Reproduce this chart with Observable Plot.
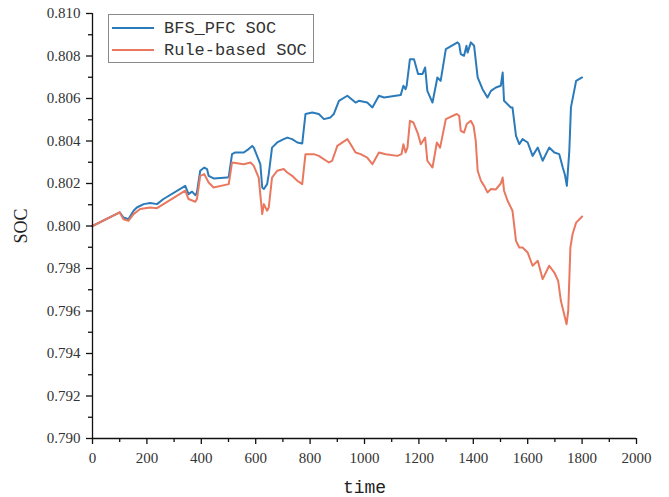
<!DOCTYPE html>
<html>
<head>
<meta charset="utf-8">
<script src="https://cdn.jsdelivr.net/npm/d3@7"></script>
<script src="https://cdn.jsdelivr.net/npm/@observablehq/plot@0.6"></script>
<style>
  html, body { margin: 0; padding: 0; background: #fff; }
  #wrap { position: relative; width: 669px; height: 497px; }
  #legend { position: absolute; left: 108px; top: 14px; width: 206px; height: 49px;
            border: 1px solid #8a8a8a; background: #fff; box-sizing: border-box;
            font-family: "Liberation Mono", "DejaVu Sans Mono", monospace; font-size: 17px; color: #333;
            white-space: nowrap; }
  .row { position: absolute; left: 0; height: 20px; display: flex; align-items: center; white-space: nowrap; }
  .sw { width: 42px; height: 2px; margin-left: 3px; margin-right: 10px; flex: none; }
</style>
</head>
<body>
<div id="wrap"></div>
<script>
// ---- data ----
const seriesNames = ["BFS_PFC SOC", "Rule-based SOC"];
const seriesColors = ["#2b7bba", "#e9785f"];

const bfsTime = [0,100,114,132,151,163,188,212,237,261,341,353,366,378,384,396,411,421,427,445,495,501,513,525,556,574,587,593,605,617,624,630,642,648,660,679,703,716,734,753,771,783,808,832,851,875,887,906,937,967,979,1010,1029,1053,1072,1133,1143,1151,1155,1167,1182,1197,1213,1223,1231,1250,1268,1280,1299,1342,1348,1354,1366,1375,1379,1391,1403,1416,1434,1452,1465,1483,1501,1508,1513,1538,1544,1557,1569,1581,1600,1618,1637,1655,1679,1698,1716,1729,1737,1744,1753,1759,1778,1800];
const bfsSOC = [0.8000,0.80064,0.8004,0.80032,0.80072,0.80087,0.80103,0.80108,0.80103,0.80127,0.80189,0.8015,0.80162,0.80145,0.80158,0.8026,0.80275,0.80268,0.80236,0.80224,0.80228,0.80232,0.80338,0.80346,0.80346,0.80362,0.80377,0.80369,0.8033,0.80291,0.80181,0.80174,0.80197,0.80244,0.80369,0.80393,0.80409,0.80416,0.80409,0.80393,0.80388,0.80527,0.80534,0.80527,0.80503,0.80511,0.80527,0.80589,0.80613,0.80581,0.80589,0.80581,0.80558,0.80613,0.80605,0.80616,0.8066,0.80644,0.8066,0.80785,0.80785,0.80715,0.80715,0.80746,0.80636,0.80581,0.80699,0.80683,0.80832,0.80864,0.80856,0.80809,0.80801,0.80848,0.80816,0.80864,0.80848,0.80699,0.80644,0.80605,0.80636,0.80652,0.8066,0.80722,0.80589,0.80558,0.80558,0.80424,0.80385,0.80409,0.80393,0.8033,0.80369,0.80307,0.80369,0.80346,0.80338,0.80275,0.8024,0.80189,0.80354,0.80558,0.80683,0.80699];

const ruleTime = [0,100,114,132,151,175,212,237,261,341,353,378,384,396,411,427,445,501,513,556,581,593,611,624,630,642,648,660,679,703,716,734,753,771,783,814,832,869,881,894,900,937,949,967,986,1010,1029,1053,1078,1121,1136,1143,1151,1158,1167,1180,1197,1207,1223,1231,1250,1266,1278,1299,1339,1348,1354,1366,1376,1391,1401,1409,1416,1428,1440,1452,1465,1483,1501,1508,1513,1526,1544,1557,1569,1581,1600,1618,1637,1655,1679,1698,1712,1722,1734,1743,1749,1757,1765,1778,1800];
const ruleSOC = [0.8000,0.80064,0.80032,0.80024,0.80056,0.8008,0.80087,0.80084,0.80103,0.80166,0.80127,0.80114,0.80127,0.80236,0.80244,0.80205,0.80181,0.80197,0.80299,0.80291,0.80299,0.80283,0.80228,0.80056,0.80103,0.80072,0.80087,0.80228,0.8026,0.80268,0.80252,0.80236,0.80213,0.80197,0.80338,0.80338,0.8033,0.80299,0.80307,0.80354,0.80377,0.80409,0.80385,0.80346,0.80338,0.80322,0.80291,0.80346,0.80338,0.8033,0.80338,0.80385,0.80346,0.80369,0.80495,0.80487,0.80432,0.80385,0.80416,0.80307,0.80275,0.80393,0.80369,0.80503,0.80527,0.80519,0.80448,0.8044,0.8048,0.80495,0.80471,0.80401,0.8026,0.80213,0.80189,0.80158,0.80174,0.80172,0.802,0.80228,0.80166,0.80119,0.80072,0.7993,0.79899,0.79899,0.79875,0.79813,0.79836,0.7975,0.79813,0.79781,0.79742,0.79648,0.79585,0.79538,0.79601,0.79899,0.79962,0.80016,0.80045];

const xMajorTicks = [0,200,400,600,800,1000,1200,1400,1600,1800,2000];
const xMinorTicks = [100,300,500,700,900,1100,1300,1500,1700,1900];
const yMajorTicks = [0.790,0.792,0.794,0.796,0.798,0.800,0.802,0.804,0.806,0.808,0.810];
const yMinorTicks = [0.791,0.793,0.795,0.797,0.799,0.801,0.803,0.805,0.807,0.809];
const xTitle = "time";
const yTitle = "SOC";

// ---- build table ----
const rows = [
  ...bfsTime.map((t, i) => ({t, soc: bfsSOC[i], s: seriesNames[0]})),
  ...ruleTime.map((t, i) => ({t, soc: ruleSOC[i], s: seriesNames[1]}))
];

const serif = "'Liberation Serif', 'DejaVu Serif', serif";
const mono = "'Liberation Mono', 'DejaVu Sans Mono', monospace";

const chart = Plot.plot({
  width: 669,
  height: 497,
  marginLeft: 92,
  marginRight: 33,
  marginTop: 13,
  marginBottom: 59,
  style: {fontFamily: serif, fontSize: "15px", color: "#222", background: "#fff"},
  x: {domain: [0, 2000], label: null},
  y: {domain: [0.790, 0.810], label: null},
  color: {domain: seriesNames, range: seriesColors},
  marks: [
    Plot.line(rows, {x: "t", y: "soc", z: "s", stroke: "s", strokeWidth: 2, curve: "linear"}),
    Plot.ruleX([0], {stroke: "#111", strokeWidth: 1.3}),
    Plot.ruleY([0.790], {stroke: "#111", strokeWidth: 1.3}),
    Plot.axisX({ticks: xMajorTicks, tickSize: 6, tickPadding: 8, tickFormat: d3.format("d"), label: null, stroke: "#111", strokeWidth: 1.3, fill: "#333", fontSize: 15}),
    Plot.axisX({ticks: xMinorTicks, tickSize: 4, label: null, stroke: "#111", strokeWidth: 1.3, fill: "none"}),
    Plot.axisY({ticks: yMajorTicks, tickSize: 6, tickPadding: 6, tickFormat: d3.format(".3f"), label: null, stroke: "#111", strokeWidth: 1.3, fill: "#333", fontSize: 15}),
    Plot.axisY({ticks: yMinorTicks, tickSize: 4, label: null, stroke: "#111", strokeWidth: 1.3, fill: "none"}),
    Plot.text([yTitle], {frameAnchor: "left", dx: -71, rotate: -90, text: d => d, fontFamily: serif, fontSize: 18, fill: "#222", textAnchor: "middle", lineAnchor: "middle"}),
    Plot.text([xTitle], {frameAnchor: "bottom", dy: 49, text: d => d, fontFamily: mono, fontSize: 18, fill: "#222", textAnchor: "middle", lineAnchor: "middle"})
  ]
});

const wrap = document.getElementById("wrap");
wrap.appendChild(chart);

// legend overlay inside plot area
const legend = document.createElement("div");
legend.id = "legend";
seriesNames.forEach((name, i) => {
  const row = document.createElement("div");
  row.className = "row";
  row.style.top = (i === 0 ? 3 : 25) + "px";
  const sw = document.createElement("div");
  sw.className = "sw";
  sw.style.background = seriesColors[i];
  const lab = document.createElement("span");
  lab.textContent = name;
  row.appendChild(sw);
  row.appendChild(lab);
  legend.appendChild(row);
});
wrap.appendChild(legend);
</script>
</body>
</html>
